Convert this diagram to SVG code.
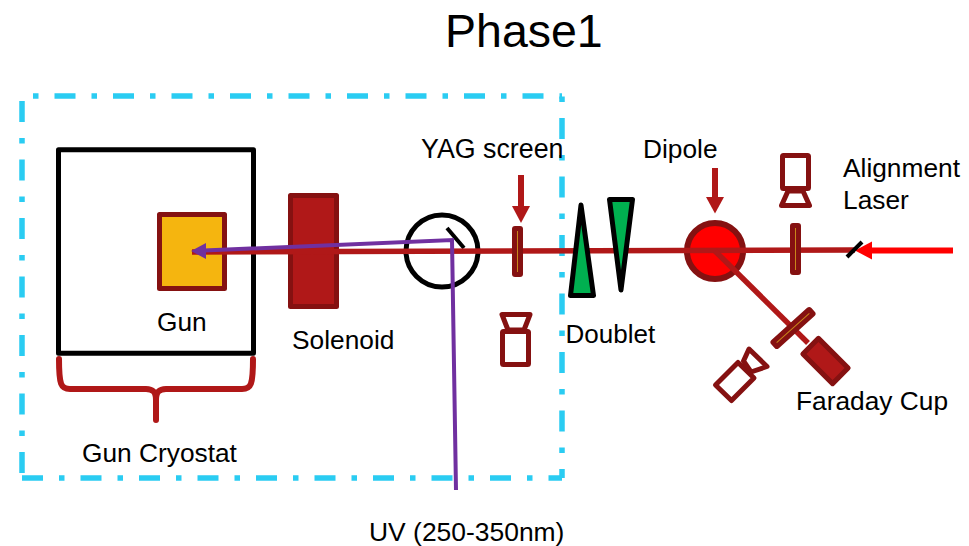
<svg xmlns="http://www.w3.org/2000/svg" width="969" height="546" viewBox="0 0 969 546">
<style>
text{font-family:"Liberation Sans",Arial,sans-serif;font-size:26.3px;fill:#000}
.dash{fill:none;stroke:#2ACCF2;stroke-width:5.5}
.dk{stroke:#851111;stroke-width:5;stroke-linejoin:round}
.beam{fill:none;stroke:#B01818;stroke-width:5.5}
.cam{fill:#fff}
.tri{fill:#00B050;stroke:#000;stroke-width:5;stroke-linejoin:round}
.scr{fill:#851111}
.scrl{stroke:#C8861A;stroke-width:1;fill:none}
</style>
<rect width="969" height="546" fill="#fff"/>
<g id="boundary">
<path class="dash" stroke-dasharray="5.5 16 21 16" d="M33,96H562"/>
<path class="dash" stroke-dasharray="21 16 5.5 16" d="M22,101V478"/>
<path class="dash" stroke-dasharray="21 16 5.5 16" d="M22,478H562"/>
<path class="dash" stroke-dasharray="5.5 16 21 16" d="M562,96.6V478"/>
</g>
<g id="cryostat"><rect x="58.5" y="149.8" width="195" height="203.5" fill="#fff" stroke="#000" stroke-width="5" stroke-linejoin="round"/></g>
<g id="gun"><rect class="dk" x="159.5" y="214.5" width="65" height="74" fill="#F5B50F"/></g>
<g id="solenoid"><rect class="dk" x="290.5" y="195.5" width="46" height="111" fill="#B01818"/></g>
<g id="splitter"><circle cx="442" cy="251" r="36" fill="none" stroke="#000" stroke-width="5"/><path d="M447,228L464,248" stroke="#000" stroke-width="4" fill="none"/></g>
<g id="dipole"><circle cx="715" cy="251" r="28" fill="#FF0000" stroke="#851111" stroke-width="6"/></g>
<g id="connectors">
<path class="beam" d="M192,252L855,250"/>
<path class="beam" d="M715,251L808,343"/>
<path d="M953,250.5H868" fill="none" stroke="#FF0000" stroke-width="6"/>
<polygon points="855,250.5 872,241.5 872,259.5" fill="#FF0000"/>
<path d="M847,257L862,242" stroke="#000" stroke-width="4" fill="none"/>
<path d="M521,175V208" stroke="#B01818" stroke-width="6" fill="none"/>
<polygon points="521,223 512,206 530,206" fill="#B01818"/>
<path d="M715,168V199" stroke="#B01818" stroke-width="6" fill="none"/>
<polygon points="715,213.500 706,197 724,197" fill="#B01818"/>
<path d="M456,490L452,240L204,250.500" fill="none" stroke="#7030A0" stroke-width="4"/>
<polygon points="191,251 206,243 206,259" fill="#7030A0"/>
</g>
<g id="yag-screen"><rect class="scr" x="512" y="226" width="11" height="51" rx="3"/><path class="scrl" d="M517.500,231V272"/></g>
<g id="camera-1" class="dk"><rect class="cam" x="502.500" y="331.500" width="26" height="33" rx="1"/><polygon class="cam" points="502,314.500 530,314.500 524,330 508,330"/></g>
<g id="doublet-1"><polygon class="tri" points="581,205 593.500,295.500 570.500,295.500"/></g>
<g id="doublet-2"><polygon class="tri" points="609.500,199.500 632.500,199.500 621,290"/></g>
<g id="screen-2"><rect class="scr" x="790" y="223" width="11" height="52" rx="3"/><path class="scrl" d="M795.500,228V270"/></g>
<g id="camera-2" class="dk"><rect class="cam" x="782.500" y="155.500" width="26" height="33" rx="1"/><polygon class="cam" points="788,191 803,191 809.500,205.500 781.500,205.500"/></g>
<g id="screen-3"><g transform="translate(793,328) rotate(-42)"><rect class="scr" x="-27" y="-5.500" width="54" height="11" rx="3"/><path class="scrl" d="M-22,0H22"/></g></g>
<g id="faraday-cup"><rect class="dk" x="-21" y="-11" width="42" height="22" fill="#B01818" transform="translate(825.500,361) rotate(45)"/></g>
<g id="camera-3" class="dk"><polygon class="cam" points="715.500,385 738,362.500 754,378 731.500,400.500"/><polygon class="cam" points="749,349 767,366.500 751,372 743.500,361"/></g>
<g id="brace"><path d="M59,359C59,385 61,389 70,389H146C153,389 156,392 156,400L156,420M156,400C156,392 159,389 166,389H242C251,389 253,385 253,359" fill="none" stroke="#B01818" stroke-width="6" stroke-linecap="round"/></g>
<g id="labels">
<text x="445" y="47" style="font-size:46.500px">Phase1</text>
<text x="421" y="158" style="font-size:26.800px">YAG screen</text>
<text x="643" y="158">Dipole</text>
<text x="843" y="177">Alignment</text>
<text x="843" y="209">Laser</text>
<text x="565.500" y="343" style="font-size:26px">Doublet</text>
<text x="157" y="331">Gun</text>
<text x="292" y="349">Solenoid</text>
<text x="82" y="462">Gun Cryostat</text>
<text x="796" y="410">Faraday Cup</text>
<text x="369" y="541" style="font-size:26.450px">UV (250-350nm)</text>
</g>
</svg>
